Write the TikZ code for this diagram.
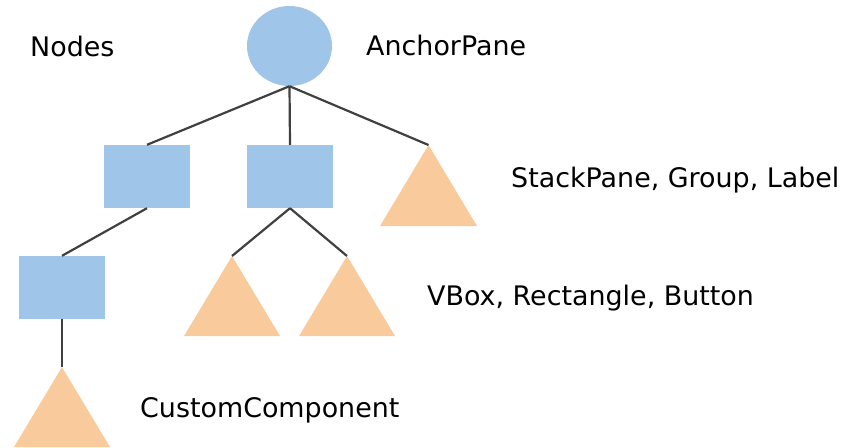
\documentclass[tikz,border=0pt]{standalone}
\usepackage{fontspec}
\setmainfont{DejaVu Sans}
\usetikzlibrary{shapes.geometric}
\definecolor{nodeblue}{HTML}{9FC5E8}
\definecolor{leaforange}{HTML}{F9CB9C}
\definecolor{edgegray}{HTML}{404040}
\begin{document}
\begin{tikzpicture}[x=1pt,y=-1pt,
  rootnode/.style={ellipse,fill=nodeblue,draw=none,minimum width=85pt,minimum height=80pt,inner sep=0pt},
  boxnode/.style={rectangle,fill=nodeblue,draw=none,minimum width=86pt,minimum height=63pt,inner sep=0pt},
  leaf/.style={fill=leaforange,draw=none},
  edge/.style={draw=edgegray,line width=2.2pt},
  lbl/.style={anchor=base west,inner sep=0pt,font=\fontsize{26.9}{30}\selectfont}
]
\useasboundingbox (0,0) rectangle (845,447);
% root and boxes
\node[rootnode] (root) at (289.5,46) {};
\node[boxnode] (b1) at (147,176.5) {};
\node[boxnode] (b2) at (290,176.5) {};
\node[boxnode] (b3) at (62,287.5) {};
% leaf apexes
\coordinate (t1) at (428.5,145);
\coordinate (t2) at (232,256);
\coordinate (t3) at (347,256);
\coordinate (t4) at (62,367);
% triangles
\fill[leaf] (t1) -- ++(48.5,81) -- ++(-97,0) -- cycle;
\fill[leaf] (t2) -- ++(48,80) -- ++(-96,0) -- cycle;
\fill[leaf] (t3) -- ++(48,80) -- ++(-96,0) -- cycle;
\fill[leaf] (t4) -- ++(48,80) -- ++(-96,0) -- cycle;
% connectors
\draw[edge] (root.south) -- (b1.north);
\draw[edge] (root.south) -- (b2.north);
\draw[edge] (root.south) -- (t1);
\draw[edge] (b1.south) -- (b3.north);
\draw[edge] (b2.south) -- (t2);
\draw[edge] (b2.south) -- (t3);
\draw[edge] (b3.south) -- (t4);
% labels
\node[lbl] (lnodes) at (30,56) {Nodes};
\node[lbl] (lanchor) at (366,55) {AnchorPane};
\node[lbl] (lstack) at (511,187) {StackPane, Group, Label};
\node[lbl] (lvbox) at (427,305) {VBox, Rectangle, Button};
\node[lbl] (lcustom) at (140,417) {CustomComponent};
\end{tikzpicture}
\end{document}
